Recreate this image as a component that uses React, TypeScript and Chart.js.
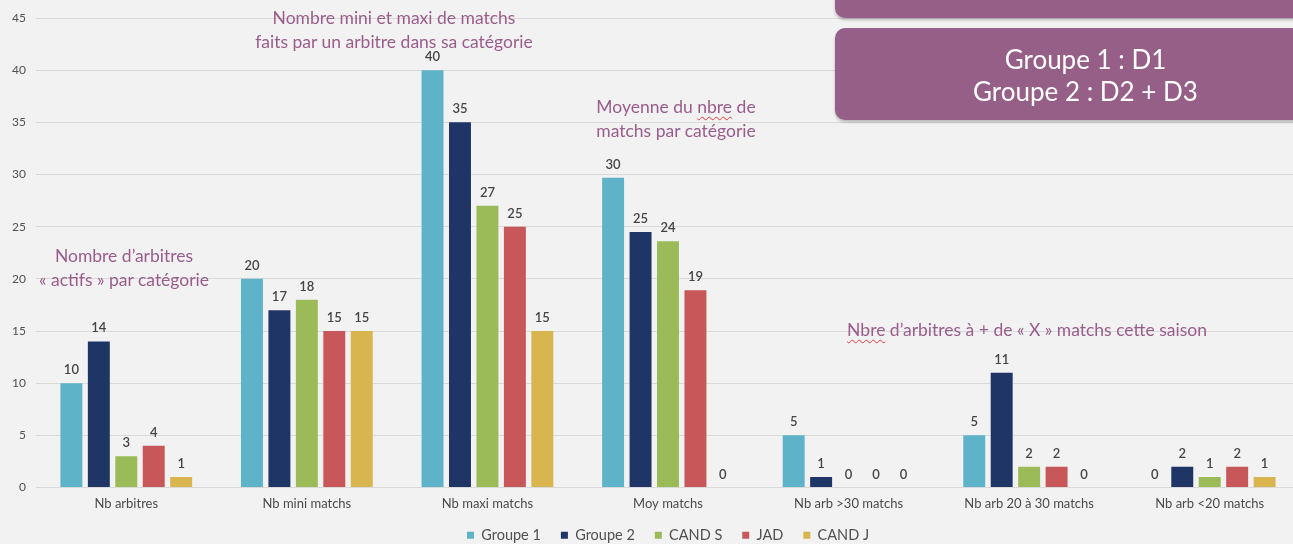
import React, { useEffect, useRef } from "react";
import { Chart, registerables } from "chart.js";

Chart.register(...registerables);

const categories = [
  "Nb arbitres",
  "Nb mini matchs",
  "Nb maxi matchs",
  "Moy matchs",
  "Nb arb >30 matchs",
  "Nb arb 20 à 30 matchs",
  "Nb arb <20 matchs",
];
const groupe1 = [10, 20, 40, 29.7, 5, 5, 0];
const groupe2 = [14, 17, 35, 24.5, 1, 11, 2];
const candS = [3, 18, 27, 23.6, 0, 2, 1];
const jad = [4, 15, 25, 18.9, 0, 2, 2];
const candJ = [1, 15, 15, 0, 0, 0, 1];
const seriesNames = ["Groupe 1", "Groupe 2", "CAND S", "JAD", "CAND J"];
const seriesColors = ["#5eb3c8", "#1f3566", "#9bbb59", "#c8575a", "#d8b54f"];

const FONT = "Lato, 'Open Sans', sans-serif";
const PURPLE = "#9a5c8c";

const valueLabels = {
  id: "valueLabels",
  afterDatasetsDraw(chart: any) {
    const ctx = chart.ctx;
    ctx.save();
    ctx.font = `600 13px ${FONT}`;
    ctx.fillStyle = "#444444";
    ctx.textAlign = "center";
    ctx.textBaseline = "alphabetic";
    chart.data.datasets.forEach((ds: any, i: number) => {
      const meta = chart.getDatasetMeta(i);
      meta.data.forEach((bar: any, j: number) => {
        const v = ds.data[j];
        ctx.fillText(String(Math.round(v)), bar.x, bar.y - 9);
      });
    });
    ctx.restore();
  },
};

// pull the legend a little closer to the category labels
const legendNudge = {
  id: "legendNudge",
  afterLayout(chart: any) {
    if (chart.legend) {
      chart.legend.top -= 7.5;
      chart.legend.bottom -= 7.5;
    }
  },
};

export default function App() {
  const ref = useRef<HTMLCanvasElement>(null);
  useEffect(() => {
    const all = [groupe1, groupe2, candS, jad, candJ];
    const chart = new Chart(ref.current as HTMLCanvasElement, {
      type: "bar",
      data: {
        labels: categories,
        datasets: all.map((d, i) => ({
          label: seriesNames[i],
          data: d,
          backgroundColor: seriesColors[i],
          categoryPercentage: 0.76,
          barPercentage: 0.8,
        })),
      },
      options: {
        responsive: false,
        maintainAspectRatio: false,
        animation: false,
        layout: { padding: { top: 18, left: 0, right: 0, bottom: 0 } },
        plugins: {
          tooltip: { enabled: false },
          legend: {
            position: "bottom",
            fullSize: false,
            labels: {
              boxWidth: 7,
              boxHeight: 7,
              padding: 20,
              color: "#505050",
              font: { family: FONT, size: 14.5 },
            },
          },
        },
        scales: {
          x: {
            grid: { display: false },
            border: { display: false },
            ticks: {
              color: "#4a4a4a",
              font: { family: FONT, size: 13 },
              padding: 1,
              maxRotation: 0,
            },
            afterFit: (s: any) => {
              s.height = 28;
            },
          },
          y: {
            min: 0,
            max: 45,
            ticks: {
              stepSize: 5,
              color: "#505050",
              font: { family: FONT, size: 12 },
              padding: 10,
            },
            grid: { color: "#d9d9d9", drawTicks: false },
            border: { display: false },
            afterFit: (s: any) => {
              s.width = 36;
            },
          },
        },
      },
      plugins: [valueLabels, legendNudge],
    });
    return () => chart.destroy();
  }, []);

  const annot: React.CSSProperties = {
    position: "absolute",
    color: PURPLE,
    fontFamily: FONT,
    fontSize: 17.5,
    lineHeight: "24px",
    textAlign: "center",
    whiteSpace: "nowrap",
    transform: "translateX(-50%)",
  };
  const squiggle: React.CSSProperties = {
    textDecoration: "underline wavy #e03a3a",
    textDecorationThickness: "1px",
    textUnderlineOffset: "3px",
  };

  return (
    <div
      style={{
        position: "fixed",
        left: 0,
        top: 0,
        width: 1293,
        height: 544,
        overflow: "hidden",
        background: "#f2f2f2",
      }}
    >
      <canvas
        ref={ref}
        width={1300}
        height={560}
        style={{ position: "absolute", left: 0, top: 0, width: 1300, height: 560 }}
      />
      <div style={{ ...annot, left: 394, top: 6 }}>
        Nombre mini et maxi de matchs
        <br />
        faits par un arbitre dans sa catégorie
      </div>
      <div style={{ ...annot, left: 676, top: 95 }}>
        Moyenne du <span style={squiggle}>nbre</span> de
        <br />
        matchs par catégorie
      </div>
      <div style={{ ...annot, left: 124, top: 244 }}>
        Nombre d’arbitres
        <br />
        « actifs » par catégorie
      </div>
      <div style={{ ...annot, left: 1027, top: 318 }}>
        <span style={squiggle}>Nbre</span> d’arbitres à + de « X » matchs cette saison
      </div>
      <div
        style={{
          position: "absolute",
          left: 835,
          top: -20,
          width: 480,
          height: 38,
          background: "#955f88",
          borderRadius: 10,
          boxShadow: "0 2px 3px rgba(0,0,0,0.25)",
        }}
      />
      <div
        style={{
          position: "absolute",
          left: 835,
          top: 28,
          width: 480,
          height: 92,
          background: "#955f88",
          borderRadius: 10,
          boxShadow: "0 2px 3px rgba(0,0,0,0.25)",
        }}
      >
        <div
          style={{
            position: "absolute",
            left: 0,
            width: 501,
            top: 15,
            color: "#ffffff",
            fontFamily: FONT,
            fontSize: 26,
            lineHeight: "32px",
            textAlign: "center",
          }}
        >
          Groupe 1 : D1
          <br />
          Groupe 2 : D2 + D3
        </div>
      </div>
    </div>
  );
}
